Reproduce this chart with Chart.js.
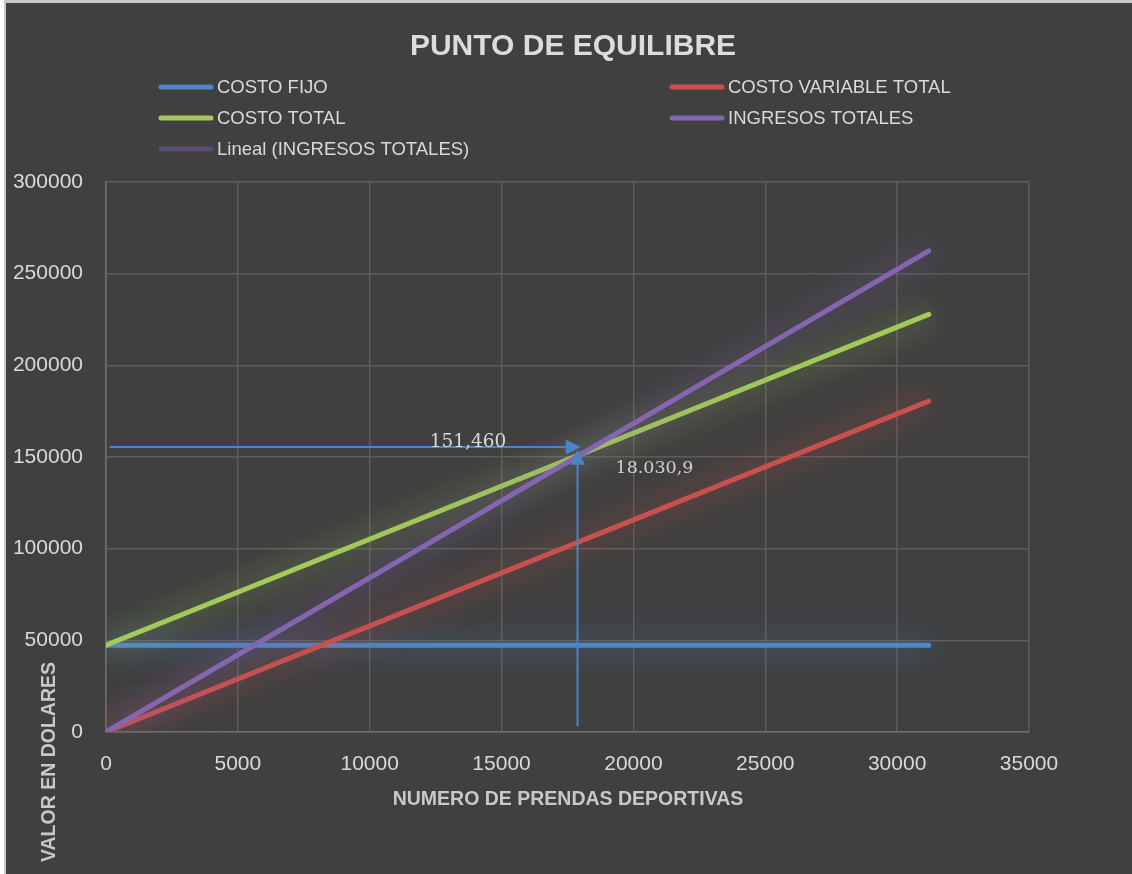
<!DOCTYPE html>
<html>
<head>
<meta charset="utf-8">
<script src="https://cdn.jsdelivr.net/npm/chart.js@4/dist/chart.umd.min.js"></script>
<style>
html,body{margin:0;padding:0;background:#fff;}
#wrap{position:relative;width:1132px;height:874px;}
</style>
</head>
<body>
<div id="wrap"><canvas id="c" width="1132" height="874"></canvas></div>
<script>
// ---- data ----
const xValues = [0, 31200];
const costoFijo = [47300, 47300];
const costoVariableTotal = [0, 180500];
const costoTotal = [47300, 227800];
const ingresosTotales = [0, 262400];
const linealIngresos = [0, 262400];
const seriesNames = ['COSTO FIJO', 'COSTO VARIABLE TOTAL', 'COSTO TOTAL', 'INGRESOS TOTALES', 'Lineal (INGRESOS TOTALES)'];
const xTicks = [0, 5000, 10000, 15000, 20000, 25000, 30000, 35000];
const yTicks = [0, 50000, 100000, 150000, 200000, 250000, 300000];
// annotation (arrows to break-even point), in data units
const arrowHStart = [150, 155400];
const arrowHEnd = [18000, 155400];
const arrowVStart = [17880, 3100];
const arrowVEnd = [17880, 154000];
const labelIngreso = {text: '151,460', x: 13730, y: 155300};
const labelUnidades = {text: '18.030,9', x: 19320, y: 141400};

const FONT = "'Liberation Sans', Arial, sans-serif";
const SERIF = "'DejaVu Serif', 'Liberation Serif', serif";
const colors = ['#4f86c6', '#c9504d', '#a2c95a', '#8466b0', '#5b4b78'];
const glows = ['rgba(79,134,198,0.95)', 'rgba(201,80,77,0.95)', 'rgba(162,201,90,0.85)', 'rgba(132,102,176,0.95)', 'rgba(0,0,0,0)'];

const seriesValues = [costoFijo, costoVariableTotal, costoTotal, ingresosTotales, linealIngresos];
const drawOrder = [4, 3, 2, 1, 5]; // higher order = drawn further back
const datasets = seriesValues.map((vals, i) => ({
  label: seriesNames[i],
  data: xValues.map((x, k) => ({x: x, y: vals[k]})),
  showLine: true,
  borderColor: colors[i],
  backgroundColor: colors[i],
  borderWidth: 5,
  borderCapStyle: 'round',
  pointRadius: 0,
  pointHoverRadius: 0,
  tension: 0,
  order: drawOrder[i]
}));

const framePlugin = {
  id: 'frame',
  beforeDraw(chart) {
    const ctx = chart.ctx;
    ctx.save();
    ctx.fillStyle = '#ffffff';
    ctx.fillRect(0, 0, 1132, 874);
    ctx.fillStyle = '#c8c8c8';
    ctx.fillRect(4, 0, 1128, 874);
    ctx.fillStyle = '#404040';
    ctx.fillRect(6, 3, 1126, 871);
    ctx.restore();
  }
};

const glowPlugin = {
  id: 'glow',
  beforeDatasetDraw(chart, args) {
    const ctx = chart.ctx;
    ctx.save();
    ctx.shadowColor = glows[args.index];
    ctx.shadowBlur = 30;
  },
  afterDatasetDraw(chart) {
    chart.ctx.restore();
  }
};

function arrow(ctx, x0, y0, x1, y1) {
  ctx.beginPath();
  const ang = Math.atan2(y1 - y0, x1 - x0);
  const L = 15, W = 7.5;
  const bx = x1 - L * Math.cos(ang), by = y1 - L * Math.sin(ang);
  ctx.moveTo(x0, y0);
  ctx.lineTo(bx, by);
  ctx.stroke();
  ctx.beginPath();
  ctx.moveTo(x1, y1);
  ctx.lineTo(bx + W * Math.sin(ang), by - W * Math.cos(ang));
  ctx.lineTo(bx - W * Math.sin(ang), by + W * Math.cos(ang));
  ctx.closePath();
  ctx.fill();
}

const decorPlugin = {
  id: 'decor',
  afterDraw(chart) {
    const ctx = chart.ctx;
    const xs = chart.scales.x, ys = chart.scales.y;
    ctx.save();
    // title
    ctx.fillStyle = '#dcdcdc';
    ctx.font = "bold 30px " + FONT;
    ctx.textAlign = 'center';
    ctx.textBaseline = 'middle';
    ctx.fillText('PUNTO DE EQUILIBRE', 573, 47);
    // legend
    const legendPos = [[159, 87], [670, 87], [159, 118], [670, 118], [159, 149]];
    ctx.font = "18.5px " + FONT;
    ctx.textAlign = 'left';
    legendPos.forEach((p, i) => {
      ctx.strokeStyle = colors[i];
      ctx.lineWidth = 5;
      ctx.lineCap = 'round';
      ctx.beginPath();
      ctx.moveTo(p[0] + 2, p[1]);
      ctx.lineTo(p[0] + 52, p[1]);
      ctx.stroke();
      ctx.fillStyle = '#d9d9d9';
      ctx.fillText(seriesNames[i], p[0] + 58, p[1] + 1);
    });
    // axis titles
    ctx.fillStyle = '#c8c8c8';
    ctx.font = "bold 19.5px " + FONT;
    ctx.textAlign = 'center';
    ctx.fillText('NUMERO DE PRENDAS DEPORTIVAS', 568, 800);
    ctx.save();
    ctx.translate(50, 762);
    ctx.rotate(-Math.PI / 2);
    ctx.fillText('VALOR EN DOLARES', 0, 0);
    ctx.restore();
    // arrows
    ctx.strokeStyle = '#4a84c8';
    ctx.fillStyle = '#4a84c8';
    ctx.lineWidth = 2;
    ctx.lineCap = 'butt';
    arrow(ctx, xs.getPixelForValue(arrowHStart[0]), ys.getPixelForValue(arrowHStart[1]),
               xs.getPixelForValue(arrowHEnd[0]), ys.getPixelForValue(arrowHEnd[1]));
    arrow(ctx, xs.getPixelForValue(arrowVStart[0]), ys.getPixelForValue(arrowVStart[1]),
               xs.getPixelForValue(arrowVEnd[0]), ys.getPixelForValue(arrowVEnd[1]));
    // labels
    ctx.font = "18.5px " + SERIF;
    ctx.fillStyle = '#d9d9d9';
    ctx.textAlign = 'center';
    ctx.textBaseline = 'alphabetic';
    ctx.fillText(labelIngreso.text, xs.getPixelForValue(labelIngreso.x), ys.getPixelForValue(labelIngreso.y));
    ctx.font = "17.5px " + SERIF;
    ctx.fillStyle = '#d0d0d0';
    ctx.textAlign = 'left';
    ctx.fillText(labelUnidades.text, xs.getPixelForValue(labelUnidades.x), ys.getPixelForValue(labelUnidades.y));
    ctx.restore();
  }
};

new Chart(document.getElementById('c'), {
  type: 'scatter',
  data: {datasets: datasets},
  options: {
    responsive: false,
    animation: false,
    events: [],
    layout: {padding: {top: 182, right: 103, bottom: 0, left: 0}},
    plugins: {
      legend: {display: false},
      title: {display: false},
      tooltip: {enabled: false}
    },
    scales: {
      x: {
        type: 'linear',
        min: 0, max: 35000,
        afterBuildTicks(axis) { axis.ticks = xTicks.map(v => ({value: v})); },
        afterFit(axis) { axis.height = 142; },
        grid: {color: '#5c5c5c', lineWidth: 1.5, drawTicks: false},
        border: {color: '#6e6e6e', width: 1.5},
        ticks: {color: '#d9d9d9', font: {family: FONT, size: 21}, padding: 20, maxRotation: 0, callback: v => String(v)}
      },
      y: {
        type: 'linear',
        min: 0, max: 300000,
        afterBuildTicks(axis) { axis.ticks = yTicks.map(v => ({value: v})); },
        afterFit(axis) { axis.width = 106; },
        grid: {color: '#5c5c5c', lineWidth: 1.5, drawTicks: false},
        border: {color: '#6e6e6e', width: 1.5},
        ticks: {color: '#d9d9d9', font: {family: FONT, size: 21}, padding: 23, callback: v => String(v)}
      }
    }
  },
  plugins: [framePlugin, glowPlugin, decorPlugin]
});
</script>
</body>
</html>
